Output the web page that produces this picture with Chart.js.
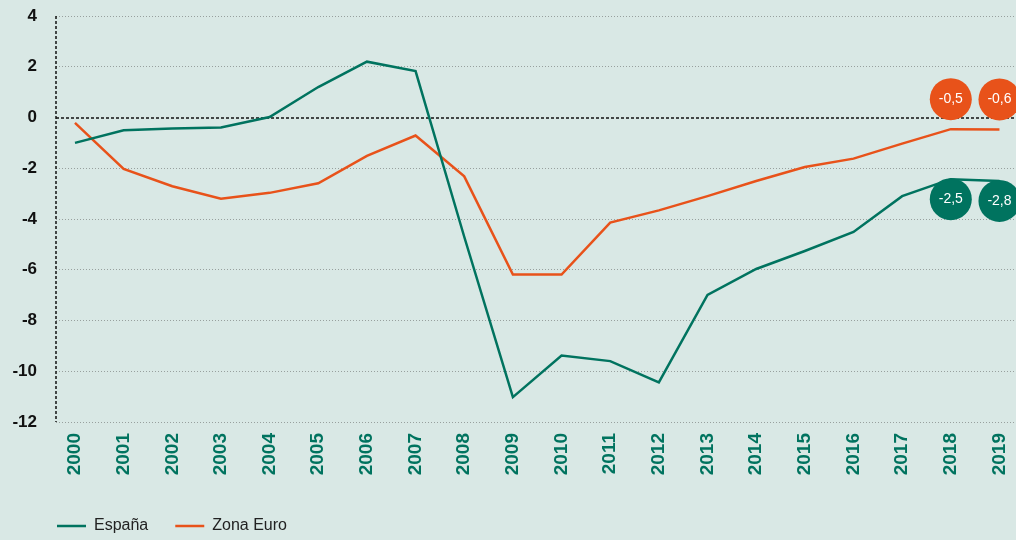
<!DOCTYPE html>
<html lang="es">
<head>
<meta charset="UTF-8">
<title>España vs Zona Euro</title>
<script src="https://cdn.jsdelivr.net/npm/chart.js@4.4.1/dist/chart.umd.min.js"></script>
<style>
  html, body { margin: 0; padding: 0; background: #d9e8e5; }
  .wrap { width: 1016px; height: 540px; }
</style>
</head>
<body>
<div class="wrap"><canvas id="chart" width="1016" height="540"></canvas></div>
<script>
  const years = ['2000', '2001', '2002', '2003', '2004', '2005', '2006', '2007', '2008', '2009',
                 '2010', '2011', '2012', '2013', '2014', '2015', '2016', '2017', '2018', '2019'];
  const espana = [-1.0, -0.5, -0.43, -0.39, 0.02, 1.2, 2.2, 1.83, -4.7, -11.02,
                  -9.38, -9.6, -10.44, -6.99, -5.97, -5.26, -4.51, -3.1, -2.43, -2.5];
  const zonaEuro = [-0.21, -2.03, -2.71, -3.2, -2.97, -2.59, -1.51, -0.71, -2.32, -6.19,
                    -6.19, -4.14, -3.66, -3.1, -2.5, -1.95, -1.62, -1.03, -0.46, -0.47];
  const yTicks = [4, 2, 0, -2, -4, -6, -8, -10, -12];
  // badges for the last two years
  const espanaBadges = ['-2,5', '-2,8'];
  const euroBadges = ['-0,5', '-0,6'];

  const TEAL = '#00735f';
  const ORANGE = '#e8521a';

  // zero line + dotted vertical axis
  const guides = {
    id: 'guides',
    afterLayout(chart) {
      // let the y labels use the space left of the scale box (legend needs the left padding)
      chart.scales.y.left = 0;
    },
    beforeDatasetsDraw(chart) {
      const { ctx, chartArea: a, scales: { y } } = chart;
      ctx.save();
      ctx.strokeStyle = '#111';
      ctx.lineWidth = 1.5;
      ctx.setLineDash([3, 2]);
      const y0 = Math.round(y.getPixelForValue(0));
      ctx.beginPath(); ctx.moveTo(a.left, y0); ctx.lineTo(a.right, y0); ctx.stroke();
      ctx.beginPath(); ctx.moveTo(a.left, a.top); ctx.lineTo(a.left, a.bottom); ctx.stroke();
      ctx.restore();
    }
  };

  const badges = {
    id: 'badges',
    afterDatasetsDraw(chart) {
      const ctx = chart.ctx;
      [[0, espanaBadges, 20, TEAL], [1, euroBadges, -30, ORANGE]].forEach(([di, texts, dy, col]) => {
        const meta = chart.getDatasetMeta(di);
        const first = meta.data.length - texts.length;
        texts.forEach((t, k) => {
          const pt = meta.data[first + k];
          ctx.save();
          ctx.fillStyle = col;
          ctx.beginPath();
          ctx.arc(pt.x, pt.y + dy, 21, 0, Math.PI * 2);
          ctx.fill();
          ctx.fillStyle = '#fff';
          ctx.font = '14px "Liberation Sans", Arial, sans-serif';
          ctx.textAlign = 'center';
          ctx.textBaseline = 'middle';
          ctx.fillText(t, pt.x, pt.y + dy);
          ctx.restore();
        });
      });
    }
  };

  new Chart(document.getElementById('chart'), {
    type: 'line',
    data: {
      datasets: [
        {
          label: 'España',
          data: espana.map((v, i) => ({ x: i, y: v })),
          borderColor: TEAL, backgroundColor: TEAL,
          borderWidth: 2.5, pointRadius: 0, tension: 0
        },
        {
          label: 'Zona Euro',
          data: zonaEuro.map((v, i) => ({ x: i, y: v })),
          borderColor: ORANGE, backgroundColor: ORANGE,
          borderWidth: 2.5, pointRadius: 0, tension: 0
        }
      ]
    },
    options: {
      responsive: false,
      animation: false,
      layout: { padding: { top: 16, left: 30, right: 0, bottom: -4 } },
      plugins: {
        tooltip: { enabled: false },
        legend: {
          position: 'bottom',
          align: 'start',
          labels: {
            usePointStyle: true,
            pointStyle: 'line',
            pointStyleWidth: 29,
            padding: 27,
            color: '#222',
            font: { family: '"Liberation Sans", Arial, sans-serif', size: 16 }
          }
        }
      },
      scales: {
        x: {
          type: 'linear',
          min: -0.39,
          max: 19.34,
          grid: { display: false },
          border: { display: false },
          afterBuildTicks: s => { s.ticks = years.map((_, i) => ({ value: i })); },
          afterFit: s => { s.height = 69; s.paddingLeft = 0; s.paddingRight = 0; },
          ticks: {
            autoSkip: false,
            minRotation: 90,
            maxRotation: 90,
            padding: 3,
            color: TEAL,
            font: { family: '"Liberation Sans", Arial, sans-serif', size: 19, weight: 'bold' },
            callback: v => years[v]
          }
        },
        y: {
          min: -12,
          max: 4,
          afterBuildTicks: s => { s.ticks = yTicks.map(v => ({ value: v })); },
          afterFit: s => { s.width = 26; s.paddingTop = 0; s.paddingBottom = 0; },
          grid: {
            drawTicks: false,
            lineWidth: 1,
            color: c => c.tick && c.tick.value === 0 ? 'rgba(0,0,0,0)' : '#98a09e'
          },
          border: { display: false, dash: [1, 2] },
          ticks: {
            padding: 19,
            color: '#111',
            font: { family: '"Liberation Sans", Arial, sans-serif', size: 17, weight: 'bold' }
          }
        }
      }
    },
    plugins: [guides, badges]
  });
</script>
</body>
</html>
